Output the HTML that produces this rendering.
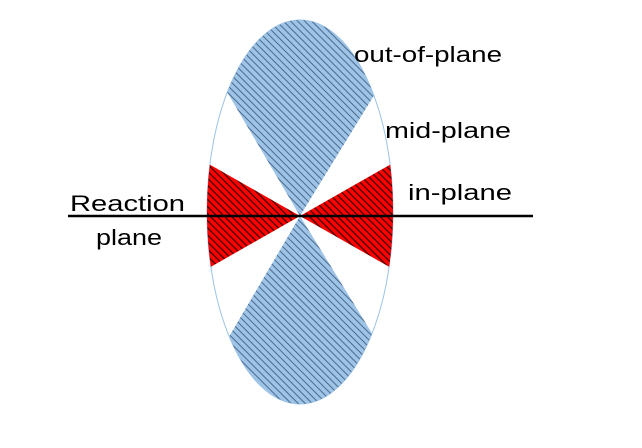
<!DOCTYPE html>
<html><head><meta charset="utf-8"><style>body{margin:0;background:#fff}svg{display:block}</style></head>
<body>
<svg width="642" height="448" viewBox="0 0 642 448" font-family="Liberation Sans, sans-serif">
<defs>
<clipPath id="ell"><ellipse cx="300" cy="212" rx="93" ry="192"/></clipPath>
<pattern id="hb" width="5" height="5" patternUnits="userSpaceOnUse" patternTransform="rotate(-45)">
<rect width="5" height="5" fill="#9dc3e6"/><rect width="1" height="5" fill="#4a6a8c"/></pattern>
<pattern id="hr" width="5" height="5" patternUnits="userSpaceOnUse" patternTransform="rotate(-45)">
<rect width="5" height="5" fill="#ff0000"/><rect width="1.3" height="5" fill="#400000"/></pattern>
</defs>
<ellipse cx="300" cy="212" rx="93" ry="192" fill="#fff" stroke="#9dc3e6" stroke-width="1"/>
<g clip-path="url(#ell)">
<polygon points="300,216 160,-22 446,-22" fill="url(#hb)"/>
<polygon points="300,216 160,454 446,454" fill="url(#hb)"/>
<polygon points="300,216 114,110 114,322" fill="url(#hr)"/>
<polygon points="300,216 486,110 486,322" fill="url(#hr)"/>
</g>
<line x1="68" y1="216" x2="533" y2="216" stroke="#000" stroke-width="2.5"/>
<g font-size="22" fill="#000">
<text x="354" y="62" textLength="148" lengthAdjust="spacingAndGlyphs">out-of-plane</text>
<text x="385" y="138" textLength="126" lengthAdjust="spacingAndGlyphs">mid-plane</text>
<text x="408" y="200" textLength="104" lengthAdjust="spacingAndGlyphs">in-plane</text>
<text x="70" y="211" textLength="115" lengthAdjust="spacingAndGlyphs">Reaction</text>
<text x="96" y="245" textLength="66" lengthAdjust="spacingAndGlyphs">plane</text>
</g>
</svg>
</body></html>
